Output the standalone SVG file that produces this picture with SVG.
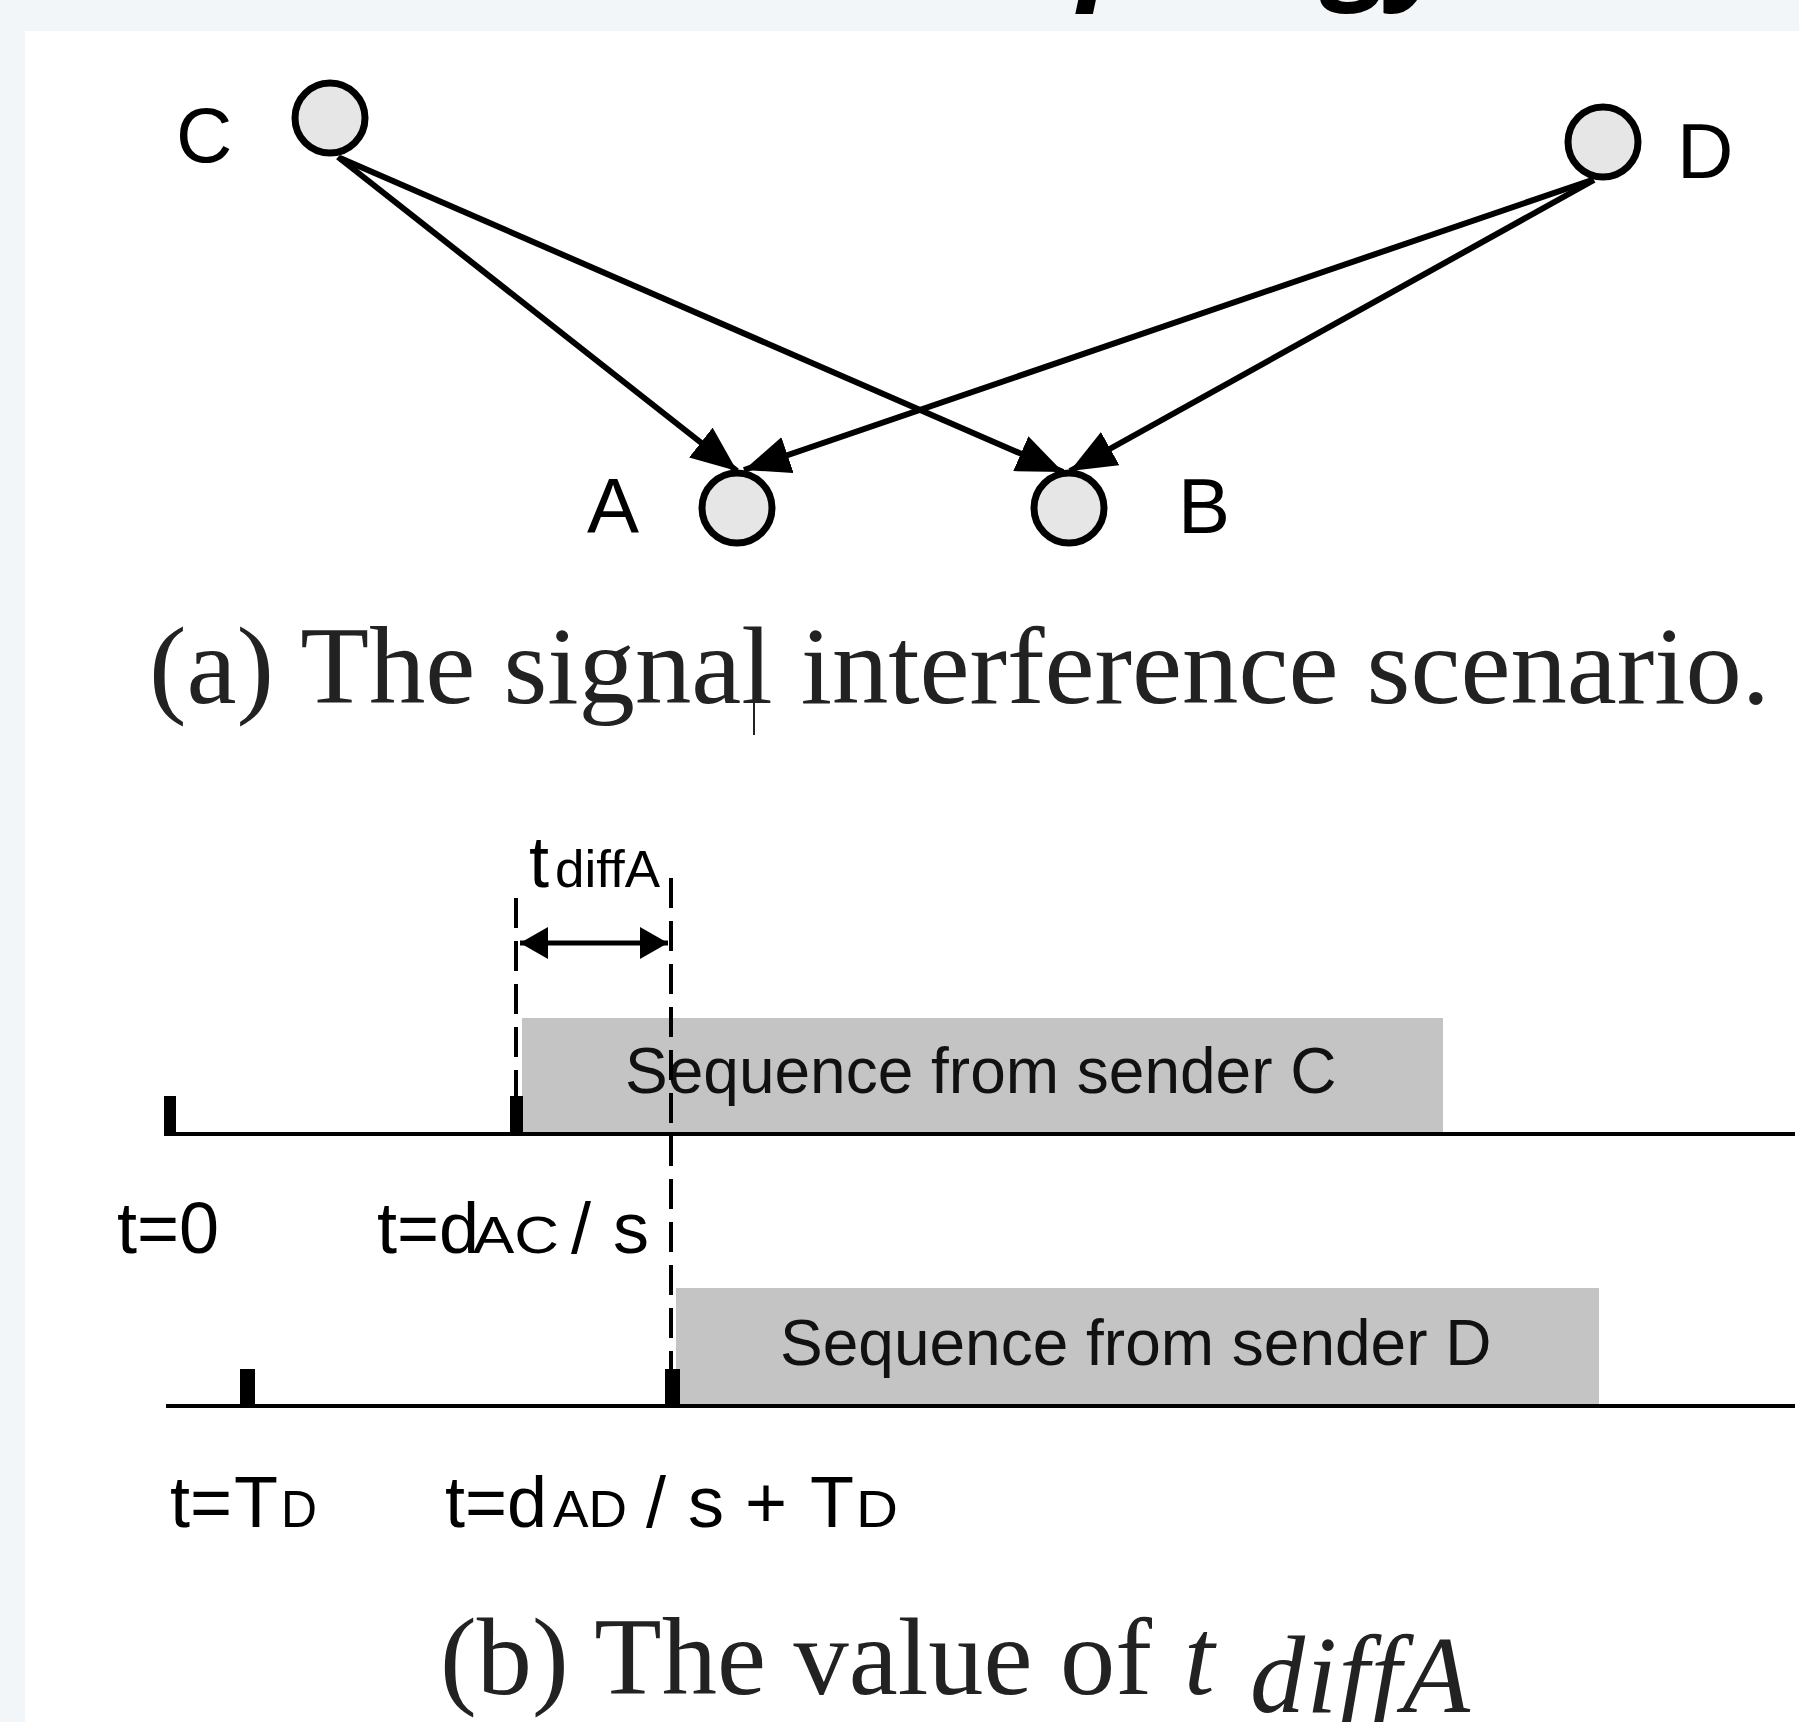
<svg xmlns="http://www.w3.org/2000/svg" width="1799" height="1722" viewBox="0 0 1799 1722">
  <defs>
    <marker id="arrow" markerUnits="userSpaceOnUse" markerWidth="48" markerHeight="40" refX="46" refY="19" orient="auto">
      <path d="M0,0 L46,19 L0,38 Z" fill="#000"/>
    </marker>
    <marker id="tick-arrow-end" markerUnits="userSpaceOnUse" markerWidth="30" markerHeight="34" refX="28" refY="16" orient="auto">
      <path d="M0,0 L28,16 L0,32 Z" fill="#000"/>
    </marker>
    <marker id="tick-arrow-start" markerUnits="userSpaceOnUse" markerWidth="30" markerHeight="34" refX="0" refY="16" orient="auto">
      <path d="M28,0 L0,16 L28,32 Z" fill="#000"/>
    </marker>
    <style>
      .node { fill: #e6e6e6; stroke: #000; stroke-width: 7; }
      .lbl { font-family: "Liberation Sans", Arial, sans-serif; font-size: 78px; fill: #000; }
      .edge { stroke: #000; stroke-width: 6; fill: none; marker-end: url(#arrow); }
      .axis { stroke: #000; stroke-width: 4; }
      .tick { fill: #000; }
      .seq { fill: #c4c4c4; }
      .seqtxt { font-family: "Liberation Sans", Arial, sans-serif; font-size: 64px; fill: #111; }
      .dash { stroke: #000; stroke-width: 4; stroke-dasharray: 30 13; fill: none; }
      .t { font-family: "Liberation Sans", Arial, sans-serif; font-size: 72px; fill: #000; }
      .sub { font-size: 52px; }
      .cap { font-family: "Liberation Serif", "Times New Roman", serif; font-size: 110px; fill: #222; }
    </style>
  </defs>

  <rect x="0" y="0" width="1799" height="1722" fill="#f3f6f9"/>
  <text x="1454" y="-15" text-anchor="end" font-family="'Open Sans', 'Noto Sans', sans-serif" font-weight="bold" font-style="italic" font-size="120" fill="#000">Topology</text>
  <rect x="25" y="31" width="1774" height="1691" fill="#ffffff"/>

  <!-- connectors -->
  <g id="connectors">
    <line class="edge" x1="338" y1="157" x2="737" y2="471"/>
    <line class="edge" x1="340" y1="158" x2="1063" y2="472"/>
    <line class="edge" x1="1592" y1="180" x2="744" y2="470"/>
    <line class="edge" x1="1594" y1="180" x2="1070" y2="471"/>
  </g>

  <g id="node-C">
    <circle class="node" cx="330" cy="118" r="35"/>
    <text class="lbl" x="176" y="162">C</text>
  </g>
  <g id="node-D">
    <circle class="node" cx="1603" cy="142" r="35"/>
    <text class="lbl" x="1677" y="178">D</text>
  </g>
  <g id="node-A">
    <circle class="node" cx="737" cy="508" r="35"/>
    <text class="lbl" x="587" y="533">A</text>
  </g>
  <g id="node-B">
    <circle class="node" cx="1069" cy="508" r="35"/>
    <text class="lbl" x="1178" y="533">B</text>
  </g>

  <text class="cap" x="149" y="703" textLength="1621" lengthAdjust="spacingAndGlyphs">(a) The signal interference scenario.</text>
  <line x1="754" y1="632" x2="754" y2="735" stroke="#222" stroke-width="2"/>

  <!-- timing diagram -->
  <g id="timeline">
    <rect class="seq" x="522" y="1018" width="921" height="116"/>
    <text class="seqtxt" x="625" y="1093">Sequence from sender C</text>
    <line class="axis" x1="164" y1="1134" x2="1795" y2="1134"/>
    <rect class="tick" x="164" y="1096" width="12" height="38"/>
    <rect class="tick" x="510" y="1096" width="13" height="38"/>

    <rect class="seq" x="676" y="1288" width="923" height="117"/>
    <text class="seqtxt" x="780" y="1365">Sequence from sender D</text>
    <line class="axis" x1="166" y1="1406" x2="1795" y2="1406"/>
    <rect class="tick" x="240" y="1369" width="15" height="38"/>
    <rect class="tick" x="665" y="1369" width="15" height="38"/>

    <line class="dash" x1="516" y1="898" x2="516" y2="1100"/>
    <line class="dash" x1="671" y1="878" x2="671" y2="1370"/>
    <line x1="520" y1="943" x2="668" y2="943" stroke="#000" stroke-width="5" marker-start="url(#tick-arrow-start)" marker-end="url(#tick-arrow-end)"/>

    <text class="t" x="529" y="887">t<tspan class="sub" x="555" font-size="44" textLength="105" lengthAdjust="spacingAndGlyphs">diffA</tspan></text>

    <text class="t" x="117" y="1253">t=0</text>
    <text class="t" x="377" y="1253">t=d<tspan class="sub" x="473" textLength="86" lengthAdjust="spacingAndGlyphs">AC</tspan><tspan x="571">/</tspan><tspan x="613">s</tspan></text>

    <text class="t" x="170" y="1527">t=<tspan x="234">T</tspan><tspan class="sub" x="281" textLength="36" lengthAdjust="spacingAndGlyphs">D</tspan></text>
    <text class="t" x="445" y="1527">t=d<tspan class="sub" x="553" textLength="74" lengthAdjust="spacingAndGlyphs">AD</tspan><tspan x="646">/</tspan><tspan x="688">s</tspan><tspan x="745">+</tspan><tspan x="810">T</tspan><tspan class="sub" x="856" textLength="42" lengthAdjust="spacingAndGlyphs">D</tspan></text>
  </g>

  <text class="cap" x="440" y="1694" textLength="712" lengthAdjust="spacingAndGlyphs">(b) The value of</text>
  <text class="cap" x="1184" y="1694" font-style="italic">t</text>
  <text class="cap" x="1250" y="1712" font-style="italic" font-size="62" textLength="220" lengthAdjust="spacing">diffA</text>
</svg>
